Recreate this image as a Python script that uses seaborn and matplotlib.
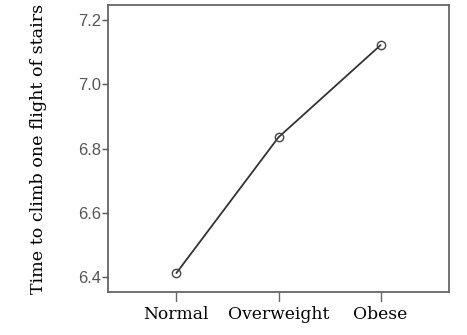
import matplotlib
matplotlib.use("Agg")
import matplotlib.pyplot as plt
import seaborn as sns
import pandas as pd

# Mean climbing time by weight group
groups = ["Normal", "Overweight", "Obese"]
mean_time = [6.412, 6.835, 7.122]

yticks = [6.4, 6.6, 6.8, 7.0, 7.2]

sns.set_theme(style="white")
plt.rcParams["font.family"] = ["DejaVu Serif"]

df = pd.DataFrame({"group": groups, "time": mean_time})

fig = plt.figure(figsize=(4.67, 3.35), dpi=100)
ax = fig.add_axes([108 / 467, 1 - 292 / 335, (449 - 108) / 467, (292 - 5) / 335])

sns.lineplot(data=df, x="group", y="time", ax=ax, color="#333333", lw=1.3,
             marker="o", markersize=6, markerfacecolor="none",
             markeredgecolor="#444444", markeredgewidth=1.0, sort=False)

ax.set_xlim(-0.67, 2.67)
ax.set_ylim(6.353, 7.247)
ax.set_yticks(yticks)
ax.set_yticklabels([f"{v:.1f}" for v in yticks], family="Liberation Sans",
                   fontsize=12, color="#555555")
ax.set_xticks(range(len(groups)))
ax.set_xticklabels(groups, fontsize=12.3, color="#000000")

ax.tick_params(axis="y", which="major", left=True, length=4, width=1,
               color="#555555", direction="out", pad=1)
ax.tick_params(axis="x", which="major", bottom=True, length=0, pad=10)

# Category ticks hang below the frame
for i in range(len(groups)):
    ax.plot([i, i], [0, -0.031], transform=ax.get_xaxis_transform(),
            color="#666666", lw=1, clip_on=False)

for s in ax.spines.values():
    s.set_color("#666666")
    s.set_linewidth(1.3)

ax.set_xlabel("")
ax.set_ylabel("Time to climb one flight of stairs", fontsize=12.6,
              color="#000000", labelpad=22)

fig.savefig("out.png", dpi=100)
